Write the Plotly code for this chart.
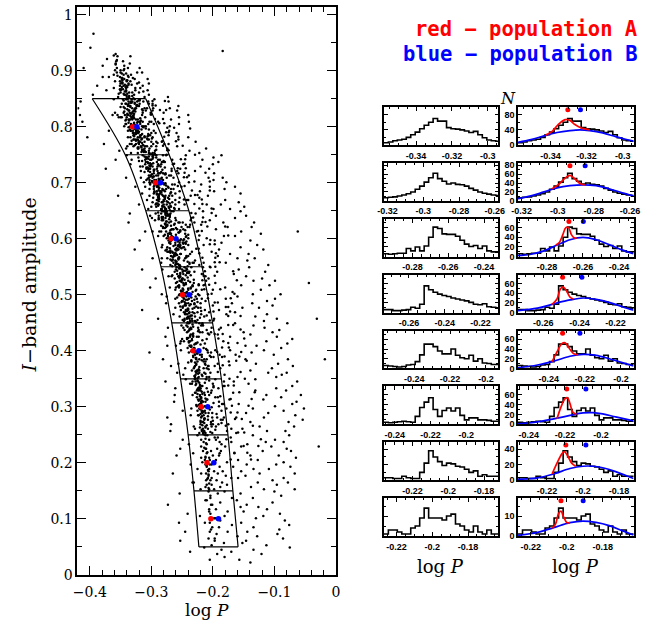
import plotly.graph_objects as go

# ---------------------------------------------------------------------------
# Main panel: amplitude bins, fitted peak positions of the two populations
# ---------------------------------------------------------------------------
AMP_CENTERS = [0.8, 0.7, 0.6, 0.5, 0.4, 0.3, 0.2, 0.1]
RED_LOGP = [-0.3304, -0.2932, -0.2678, -0.2493, -0.2323, -0.2190, -0.2095, -0.2032]
BLUE_LOGP = [-0.3234, -0.2848, -0.2598, -0.2386, -0.2227, -0.2084, -0.1984, -0.1909]

# selection box: bin edges in amplitude and the box boundaries in log P
BOX_AMP = [0.85, 0.75, 0.65, 0.55, 0.45, 0.35, 0.25, 0.15, 0.05]
BOX_LEFT = [-0.396, -0.3425, -0.309, -0.2843, -0.2668, -0.2525, -0.2402, -0.2307, -0.2227]
BOX_RIGHT = [-0.309, -0.271, -0.239, -0.2175, -0.2005, -0.1862, -0.1755, -0.1675, -0.159]

# stars: "amplitude(x1000): logP(x1000) ..."
STARS = [
    "966: -394", "941: -399", "935: -184", "930: -358", "926: -355 -334", "921: -372",
    "917: -357 -346", "913: -335 -358", "909: -344 -379", "905: -338 -319 -356 -410",
    "901: -359 -345 -350", "897: -350 -323 -356 -315", "893: -361 -333 -345",
    "889: -337 -369 -351 -379", "885: -327 -344 -348 -306", "881: -351 -334 -340 -359",
    "877: -323 -347 -350 -337 -304", "873: -314 -351 -345 -340 -388", "869: -326 -361 -341 -318",
    "865: -341 -326 -350 -373 -306", "861: -331 -320 -336 -350", "857: -304 -344 -342 -328 -395",
    "853: -336 -311 -337 -354 -273",
    "849: -332 -319 -346 -327 -361 -341 -339 -295",
    "845: -313 -323 -337 -305 -333 -331 -272 -415",
    "841: -348 -319 -298 -341 -327 -342 -337 -304",
    "837: -338 -335 -322 -320 -324 -334 -256",
    "833: -326 -307 -311 -297 -325 -343 -331 -270 -419",
    "829: -328 -314 -336 -309 -298 -337 -258",
    "825: -314 -301 -335 -359 -345 -331 -280",
    "821: -337 -339 -363 -329 -355 -315 -343 -240 -416",
    "817: -348 -340 -353 -310 -350 -332 -329 -255",
    "813: -341 -325 -331 -322 -335 -337 -268",
    "809: -303 -289 -300 -314 -318 -319 -322 -239 -412",
    "805: -341 -305 -296 -318 -342 -333 -328 -255",
    "801: -312 -309 -344 -315 -334 -331 -270",
    "797: -309 -328 -325 -320 -327 -323 -237",
    "793: -330 -334 -322 -325 -338 -296 -333 -271 -369",
    "789: -329 -293 -330 -322 -300 -326 -321 -259",
    "785: -318 -329 -317 -302 -304 -328 -272",
    "781: -298 -338 -311 -318 -319 -334 -322 -240 -404",
    "777: -306 -325 -304 -328 -322 -329 -316 -256",
    "773: -292 -311 -283 -319 -300 -318 -228",
    "769: -297 -335 -332 -279 -325 -320 -272 -377",
    "765: -329 -307 -339 -292 -300 -310 -317 -258",
    "761: -322 -303 -311 -341 -274 -321 -211",
    "757: -312 -294 -304 -313 -315 -311 -238 -352",
    "753: -322 -298 -303 -333 -295 -304 -222",
    "749: -281 -292 -276 -297 -340 -314 -186 -244",
    "745: -297 -307 -308 -321 -292 -309 -199",
    "741: -300 -289 -332 -286 -302 -310 -266 -217 -358",
    "737: -309 -291 -281 -278 -283 -306 -191",
    "733: -334 -284 -265 -289 -300 -310 -248 -200",
    "729: -285 -290 -302 -318 -314 -298 -220",
    "725: -302 -291 -308 -305 -267 -304 -206 -253 -374",
    "721: -258 -317 -296 -267 -290 -305 -229",
    "717: -281 -289 -277 -286 -288 -296 -256 -198",
    "713: -304 -301 -271 -268 -292 -289 -239",
    "709: -275 -283 -264 -304 -317 -298 -184 -207 -341",
    "705: -295 -287 -281 -292 -308 -303 -199",
    "701: -303 -295 -312 -298 -255 -289 -239 -178",
    "697: -266 -279 -302 -262 -287 -292 -219",
    "693: -296 -273 -251 -291 -310 -289 -164 -205 -326",
    "689: -268 -282 -276 -303 -264 -296 -181",
    "685: -291 -286 -254 -295 -278 -284 -221 -198",
    "681: -315 -269 -286 -261 -296 -291 -155",
    "677: -271 -281 -303 -266 -277 -288 -236 -208 -354",
    "673: -289 -254 -297 -273 -288 -278 -222",
    "669: -240 -280 -291 -261 -307 -289 -180 -242",
    "665: -266 -282 -273 -298 -255 -283 -158",
    "661: -275 -288 -261 -280 -246 -293 -210 -187 -320",
    "657: -292 -282 -268 -300 -272 -279 -149",
    "653: -255 -284 -305 -262 -276 -283 -199 -172",
    "649: -264 -267 -280 -282 -275 -216 -155",
    "645: -277 -269 -274 -293 -284 -228 -335",
    "641: -288 -302 -273 -270 -276 -146 -195",
    "637: -283 -261 -288 -299 -277 -235 -164",
    "633: -281 -294 -260 -236 -283 -205",
    "629: -249 -256 -254 -230 -271 -133 -183 -337",
    "625: -263 -237 -277 -244 -274 -219",
    "621: -251 -238 -281 -241 -276 -176 -137",
    "617: -248 -264 -258 -267 -265 -195",
    "613: -253 -284 -298 -287 -276 -226 -154 -310 -062",
    "609: -273 -269 -268 -245 -270 -122",
    "605: -280 -289 -267 -243 -273 -182 -164",
    "601: -272 -275 -240 -269 -259 -210",
    "597: -248 -272 -253 -256 -268 -139 -197 -319",
    "593: -261 -254 -249 -245 -271 -186",
    "589: -256 -253 -240 -282 -261 -128 -215",
    "585: -247 -283 -248 -254 -274 -155",
    "581: -275 -256 -245 -257 -261 -118 -190 -327",
    "577: -272 -270 -274 -234 -266 -202",
    "573: -260 -253 -252 -237 -262 -172 -142",
    "569: -262 -243 -264 -240 -268 -192",
    "565: -245 -274 -255 -283 -256 -160 -132 -298",
    "561: -247 -266 -267 -229 -261 -144",
    "557: -231 -284 -238 -233 -264 -215 -179",
    "553: -254 -222 -269 -261 -255 -110",
    "549: -235 -254 -246 -216 -259 -204 -141",
    "545: -282 -242 -260 -250 -158 -315",
    "541: -249 -240 -238 -230 -262 -193 -115",
    "537: -253 -248 -218 -258 -166",
    "533: -256 -267 -255 -272 -253 -146 -212",
    "529: -250 -207 -249 -262 -120 -293",
    "525: -251 -240 -254 -211 -253 -099 -134",
    "521: -231 -260 -244 -248 -196 -044",
    "517: -215 -247 -233 -223 -255 -154 -108",
    "513: -270 -236 -255 -260 -180 -302",
    "509: -227 -240 -261 -218 -248 -200 -122",
    "505: -242 -233 -249 -251 -168",
    "501: -208 -254 -224 -235 -247 -090 -135 -283",
    "497: -275 -228 -243 -250 -160",
    "493: -218 -261 -226 -239 -247 -099 -179",
    "489: -249 -212 -234 -250 -112",
    "485: -244 -220 -255 -230 -240 -169 -136 -276",
    "481: -246 -200 -238 -244 -103",
    "477: -220 -261 -230 -224 -249 -152 -125",
    "473: -252 -213 -240 -244 -190 -315",
    "469: -233 -247 -206 -225 -238 -164",
    "465: -264 -242 -219 -245 -112 -178",
    "461: -229 -254 -214 -237 -240 -131",
    "457: -234 -246 -242 -238 -096 -198 -289 -031",
    "453: -236 -229 -233 -237 -247 -117",
    "449: -217 -241 -222 -239 -164 -079",
    "445: -251 -216 -219 -243 -134",
    "441: -248 -224 -202 -236 -187 -116 -273",
    "437: -210 -246 -223 -238 -092",
    "433: -221 -217 -203 -242 -150 -103",
    "429: -192 -206 -236 -233 -139",
    "425: -223 -232 -226 -237 -172 -096 -277",
    "421: -242 -250 -210 -234 -071",
    "417: -252 -239 -247 -237 -113 -183",
    "413: -213 -253 -227 -228 -079",
    "409: -260 -236 -235 -238 -147 -129 -274",
    "405: -241 -215 -231 -230 -089",
    "401: -196 -209 -252 -231 -172 -117",
    "397: -203 -230 -208 -239 -137 -303",
    "393: -221 -218 -189 -229 -163 -101",
    "389: -203 -199 -218 -232 -185",
    "385: -222 -214 -210 -227 -147 -078 -281 -018",
    "381: -212 -225 -215 -235 -174",
    "377: -256 -213 -192 -227 -094 -130",
    "373: -208 -197 -207 -229 -070 -268",
    "369: -245 -215 -210 -231 -104 -188",
    "365: -234 -226 -224 -222 -139",
    "361: -214 -204 -222 -227 -080 -110 -258",
    "357: -181 -248 -218 -228 -088",
    "353: -210 -229 -206 -223 -160 -097",
    "349: -196 -244 -211 -229 -131",
    "345: -233 -228 -182 -224 -063 -166 -277",
    "341: -234 -237 -200 -227 -142",
    "337: -199 -219 -183 -217 -071 -181",
    "333: -210 -191 -220 -224 -097 -261",
    "329: -226 -202 -223 -220 -081 -131",
    "325: -203 -229 -214 -228 -167",
    "321: -213 -206 -233 -221 -057 -113 -262",
    "317: -192 -196 -226 -219 -089",
    "313: -210 -221 -209 -224 -173 -118",
    "309: -190 -212 -219 -216 -064 -263",
    "305: -183 -219 -185 -221 -071 -158",
    "301: -226 -213 -190 -219 -099",
    "297: -178 -221 -235 -222 -052 -135",
    "293: -217 -225 -186 -213 -085 -249",
    "289: -212 -201 -207 -217 -110 -146",
    "285: -215 -236 -223 -224 -066",
    "281: -182 -201 -193 -219 -117 -162 -274",
    "277: -208 -184 -187 -214 -054",
    "273: -217 -220 -203 -216 -139 -077",
    "269: -200 -191 -203 -220 -175 -268",
    "265: -195 -202 -231 -212 -124 -068",
    "261: -208 -229 -170 -216 -152",
    "257: -177 -215 -218 -214 -082 -112 -269",
    "253: -201 -212 -222 -216 -162",
    "249: -225 -209 -212 -076 -135",
    "245: -197 -192 -171",
    "241: -206 -195 -219 -099 -249",
    "237: -170 -189 -215 -085 -114",
    "233: -239 -186 -210 -144",
    "229: -180 -219 -105 -154 -028",
    "225: -193 -211 -212 -080 -253",
    "221: -203 -187 -216 -073 -119",
    "217: -232 -189 -210 -165",
    "213: -200 -190 -093 -139 -259",
    "209: -219 -206 -212 -065",
    "205: -205 -195 -213 -159 -127",
    "201: -217 -177 -085",
    "197: -202 -212 -205 -145 -097 -236",
    "193: -189 -167 -210 -074",
    "189: -206 -225 -134 -109",
    "185: -184 -198 -207 -154",
    "181: -192 -219 -211 -067 -124 -265",
    "177: -179 -207 -147",
    "173: -202 -170 -208 -085 -159",
    "169: -211 -194 -204 -103",
    "165: -231 -185 -078 -127 -233",
    "161: -202 -177 -210 -096",
    "157: -212 -188 -138",
    "153: -198 -220 -206 -067 -117",
    "149: -181 -207 -100",
    "145: -192 -155 -254",
    "141: -204 -089",
    "137: -204 -169 -135",
    "133: -210 -212 -161",
    "129: -188 -103",
    "125: -201 -203 -145 -273",
    "121: -155 -126",
    "117: -206 -195 -112",
    "113: -206 -176 -150",
    "109: -204 -091 -241",
    "105: -221 -181 -118",
    "101: -196 -198 -130",
    "097: -188 -083",
    "093: -205 -213 -154 -255",
    "089: -169 -076",
    "085: -201 -190 -134",
    "081: -203 -092",
    "077: -205 -176 -144 -245",
    "073: -194 -095",
    "069: -160 -128",
    "065: -197 -207 -086",
    "061: -197 -146 -253",
    "057: -182 -152",
    "053: -202 -113",
    "049: -214 -075",
    "045: -186 -134",
    "041: -170 -237",
    "037: -193 -121",
    "032: -181",
    "027: -205 -157",
    "022: -139",
]

# stars close to the period-amplitude ridge, same format
STARS_RIDGE = [
    "927: -361", "919: -356", "911: -358", "903: -344", "895: -348 -341", "891: -355 -338",
    "887: -348 -330 -347", "883: -340 -339 -347", "879: -348 -320 -347", "875: -343 -337 -332",
    "871: -339 -342 -348", "867: -351 -349 -346", "863: -341 -313 -343", "859: -345 -353 -339",
    "855: -336 -331 -340", "851: -340 -337 -329", "847: -345 -319 -321", "843: -332 -327 -334",
    "839: -338 -323 -324", "835: -334 -345 -350", "831: -339 -315 -327", "827: -326 -344 -330",
    "823: -339 -333 -328", "819: -330 -334 -329", "815: -332 -328 -318", "811: -342 -317 -336",
    "807: -328 -337 -323", "803: -332 -331 -327", "799: -325 -337 -313", "795: -335 -304 -316",
    "791: -324 -320 -323", "787: -325 -315 -305", "783: -328 -306 -311", "779: -315 -299 -307",
    "775: -321 -332 -325", "771: -321 -315 -290", "767: -313 -314 -327", "763: -321 -316 -322",
    "759: -313 -315 -292", "755: -316 -309 -312", "751: -302 -294 -299", "747: -311 -298 -304",
    "743: -305 -308 -298", "739: -315 -320 -280", "735: -305 -297 -302", "731: -301 -288 -303",
    "727: -308 -306 -278", "723: -295 -296 -282", "719: -302 -284 -311", "715: -299 -278 -277",
    "711: -301 -297 -296", "707: -288 -284 -306", "703: -292 -287 -299", "699: -302 -280 -277",
    "695: -295 -290 -276", "691: -287 -288 -272", "687: -288 -280 -281", "683: -295 -284 -268",
    "679: -283 -291 -288", "675: -288 -289 -279", "671: -287 -271 -278", "667: -280 -288 -275",
    "663: -290 -270 -292", "659: -282 -269 -289", "655: -278 -263 -271", "651: -284 -270 -278",
    "647: -289 -277 -276", "643: -277 -270 -273", "639: -270 -283 -281", "635: -281 -288 -271",
    "631: -276 -268 -275", "627: -277 -262 -278", "623: -268 -284 -274", "619: -278 -281 -260",
    "615: -269 -245 -253", "611: -270 -256 -255", "607: -278 -240 -260", "603: -265 -244 -268",
    "599: -269 -247 -252", "595: -257 -243 -269", "591: -269 -244 -248", "587: -264 -257 -253",
    "583: -270 -259 -251", "579: -259 -269 -277", "575: -265 -269 -261", "571: -263 -259 -258",
    "567: -255 -243 -265", "563: -265 -269 -256", "559: -260 -241 -259", "555: -257 -260 -238",
    "551: -266 -253 -241", "547: -253 -255 -243", "543: -258 -244 -247", "539: -253 -242 -239",
    "535: -266 -236 -244", "531: -254 -241 -255", "527: -250 -231 -246", "523: -258 -251 -237",
    "519: -244 -223 -247", "515: -255 -257 -233", "511: -249 -240 -236", "507: -251 -252 -228",
    "503: -244 -245 -242", "499: -255 -222 -246", "495: -248 -235 -258", "491: -244 -230 -241",
    "487: -251 -225 -246", "483: -245 -230 -236", "479: -253 -249 -227", "475: -240 -233 -241",
    "471: -242 -219 -244", "467: -245 -230 -239", "463: -236 -210 -234", "459: -242 -240 -221",
    "455: -246 -249 -225", "451: -238 -227 -241",
    "447: -233 -217", "443: -241 -232", "439: -238 -235", "435: -240 -224", "431: -232 -208",
    "427: -237 -232", "423: -240 -242", "419: -234 -217", "415: -239 -225", "411: -230 -220",
    "407: -235 -236", "403: -230 -211", "399: -235 -228", "395: -226 -225", "391: -232 -205",
    "387: -227 -228", "383: -235 -218", "379: -229 -240", "375: -227 -212", "371: -230 -222",
    "367: -223 -207", "363: -228 -226", "359: -224 -212", "355: -230 -217", "351: -225 -229",
    "347: -225 -206", "343: -222 -213", "339: -228 -221", "335: -222 -199", "331: -225 -222",
    "327: -218 -208", "323: -225 -217", "319: -221 -188", "315: -219 -212", "311: -223 -218",
    "307: -219 -199", "303: -223 -227", "299: -216 -202", "295: -220 -205", "291: -215 -218",
    "287: -220 -194", "283: -218 -208", "279: -214 -213", "275: -220 -200", "271: -214 -186",
    "267: -217 -210", "263: -212 -221", "259: -218 -196", "255: -214 -204",
    "251: -215", "243: -212", "235: -211", "227: -214", "219: -209", "211: -212", "203: -209",
    "195: -210", "187: -208", "179: -207", "171: -209", "163: -206", "155: -207",
]

# stars just to the long-period side of the box, same format
STARS_FIELD = [
    "846: -298 -278", "838: -298 -293", "830: -276 -286", "822: -301 -300", "814: -294 -281",
    "806: -287 -279", "798: -263 -274", "790: -272 -276", "782: -279 -256", "774: -260 -282",
    "766: -281 -249", "758: -274 -272", "750: -229 -275", "742: -252 -245", "734: -263 -246",
    "726: -244 -257", "718: -212 -246", "710: -247 -242", "702: -205 -230", "694: -246 -257",
    "686: -205 -234", "678: -229 -225", "670: -218 -247", "662: -230 -217", "654: -202 -222",
    "646: -202 -235", "638: -232 -216", "630: -212 -217", "622: -180 -209", "614: -218 -224",
    "606: -175 -222", "598: -204 -223", "590: -197 -205", "582: -223 -227", "574: -195 -222",
    "566: -196 -217", "558: -189 -197", "550: -196 -205", "542: -167 -213", "534: -215 -197",
    "526: -161 -217", "518: -206 -213", "510: -214 -188", "502: -165 -202", "494: -171 -208",
    "486: -192 -197", "478: -175 -179", "470: -172 -199", "462: -155 -175", "454: -205 -199",
    "446: -167 -175", "438: -155 -190", "430: -197 -184", "422: -149 -191", "414: -160 -175",
    "406: -185 -174", "398: -154 -193", "390: -157 -181", "382: -145 -162", "374: -173 -184",
    "362: -155 -192", "350: -148 -173", "338: -175 -166", "326: -132 -157", "314: -137 -171",
    "302: -142 -169", "290: -171 -160", "278: -153 -164", "266: -135 -179", "254: -159 -149",
    "242: -122 -178", "230: -126 -150", "218: -165 -144", "206: -138 -171",
]

# ---------------------------------------------------------------------------
# Histogram panels (one row per amplitude bin, top = 0.8)
# ---------------------------------------------------------------------------
HIST_LO = [-0.358, -0.322, -0.296, -0.274, -0.257, -0.246, -0.236, -0.227]
HIST_SPAN = 0.064
HIST_BIN = 0.0025
PANEL_YMAX = [100, 85, 78, 78, 78, 77, 49, 19]
PANEL_YDTICK = [40, 20, 20, 20, 20, 20, 20, 10]
PANEL_YMINOR = [20, 10, 10, 10, 10, 10, 10, 5]

COUNTS_08 = [6, 8, 11, 13, 15, 20, 27, 34, 43, 52, 60, 70, 63, 63, 46, 43, 42, 40, 37, 33, 36, 27, 19, 13, 11, 10]
COUNTS_07 = [7, 8, 9, 11, 13, 16, 20, 26, 33, 42, 52, 62, 50, 44, 38, 40, 37, 36, 33, 28, 24, 20, 17, 15, 13, 12]
COUNTS_06 = [6, 5, 6, 7, 7, 17, 12, 20, 12, 22, 40, 61, 58, 47, 46, 46, 42, 34, 26, 21, 23, 17, 22, 12, 10, 9]
COUNTS_05 = [6, 6, 4, 4, 5, 6, 11, 9, 17, 55, 47, 42, 38, 35, 33, 30, 28, 26, 24, 21, 17, 16, 18, 12, 11, 9]
COUNTS_04 = [6, 5, 4, 3, 4, 7, 8, 14, 28, 50, 50, 45, 36, 30, 30, 40, 27, 22, 20, 27, 15, 20, 11, 10, 8, 8]
COUNTS_03 = [4, 3, 4, 5, 6, 5, 4, 16, 34, 45, 54, 30, 16, 28, 33, 27, 33, 18, 9, 13, 13, 9, 9, 8, 6, 6]
COUNTS_02 = [3, 3, 2, 2, 5, 3, 2, 2, 10, 22, 38, 30, 24, 19, 22, 21, 18, 17, 14, 10, 12, 5, 7, 5, 5, 5]
COUNTS_01 = [1, 3, 3, 2, 1, 1, 4, 5, 9, 14, 9, 9, 9, 8, 10, 11, 6, 5, 3, 2, 5, 2, 1, 3, 1, 1]

# fitted profiles: population B alone (blue) and A+B around the A peak (red)
FIT_B_X_08 = [-0.358, -0.3508, -0.3436, -0.3364, -0.3292, -0.3237, -0.3183, -0.3111, -0.3039, -0.2985, -0.294]
FIT_B_Y_08 = [7, 14, 24, 33, 38, 40, 38, 32, 22, 15, 10]
FIT_AB_X_08 = [-0.3427, -0.3391, -0.3355, -0.3319, -0.3292, -0.3265, -0.3228, -0.3201, -0.3183]
FIT_AB_Y_08 = [26, 36, 55, 67, 65, 54, 45, 42, 40]

FIT_B_X_07 = [-0.322, -0.3148, -0.3076, -0.3004, -0.2932, -0.286, -0.2787, -0.2715, -0.2643, -0.258]
FIT_B_Y_07 = [5, 11, 20, 29, 34, 36, 34, 27, 18, 11]
FIT_AB_X_07 = [-0.3031, -0.2995, -0.2959, -0.2932, -0.2904, -0.2877, -0.285]
FIT_AB_Y_07 = [27, 37, 51, 57, 49, 39, 36]

FIT_B_X_06 = [-0.296, -0.2888, -0.2816, -0.2744, -0.2672, -0.26, -0.2528, -0.2456, -0.2384, -0.232]
FIT_B_Y_06 = [2, 5, 12, 24, 35, 40, 35, 25, 14, 6]
FIT_AB_X_06 = [-0.275, -0.273, -0.2712, -0.2695, -0.268, -0.2665, -0.265, -0.2635]
FIT_AB_Y_06 = [24, 30, 45, 60, 60, 46, 39, 38]

FIT_B_X_05 = [-0.274, -0.2632, -0.2542, -0.2452, -0.2379, -0.2307, -0.2235, -0.2163, -0.21]
FIT_B_Y_05 = [4, 9, 18, 26, 30, 27, 21, 12, 5]
FIT_AB_X_05 = [-0.2551, -0.2524, -0.2506, -0.2491, -0.247, -0.2452, -0.2433]
FIT_AB_Y_05 = [17, 28, 48, 53, 44, 32, 28]

FIT_B_X_04 = [-0.257, -0.2462, -0.2372, -0.2282, -0.2209, -0.2137, -0.2065, -0.1993, -0.193]
FIT_B_Y_04 = [1, 7, 15, 25, 29, 27, 20, 12, 5]
FIT_AB_X_04 = [-0.2381, -0.2354, -0.2327, -0.2309, -0.2291, -0.2264, -0.2237]
FIT_AB_Y_04 = [14, 34, 51, 53, 44, 31, 28]

FIT_B_X_03 = [-0.246, -0.2352, -0.2262, -0.2172, -0.21, -0.2045, -0.1991, -0.1919, -0.182]
FIT_B_Y_03 = [1, 5, 11, 18, 23, 23.5, 21, 15, 7]
FIT_AB_X_03 = [-0.2244, -0.2222, -0.2199, -0.2186, -0.2172, -0.2157, -0.2136]
FIT_AB_Y_03 = [11, 35, 52, 54, 42, 25, 20]

FIT_B_X_02 = [-0.236, -0.2252, -0.2162, -0.2072, -0.2, -0.1945, -0.1891, -0.1819, -0.172]
FIT_B_Y_02 = [1, 3, 8, 15, 18, 18, 16, 11, 2]
FIT_AB_X_02 = [-0.2171, -0.2144, -0.2117, -0.2104, -0.2086, -0.2063, -0.204]
FIT_AB_Y_02 = [8, 22, 34, 37, 32, 22, 18]

FIT_B_X_01 = [-0.227, -0.2162, -0.2072, -0.1982, -0.191, -0.1838, -0.1765, -0.1693, -0.163]
FIT_B_Y_01 = [0.3, 1.8, 4.2, 6.7, 7.5, 6.8, 5.2, 2.7, 0.5]
FIT_AB_X_01 = [-0.2081, -0.2063, -0.2045, -0.2032, -0.2018, -0.2, -0.1982]
FIT_AB_Y_01 = [3.9, 5.8, 11.3, 12.5, 9.7, 6.8, 6.7]

COUNTS = [COUNTS_08, COUNTS_07, COUNTS_06, COUNTS_05, COUNTS_04, COUNTS_03, COUNTS_02, COUNTS_01]
FITS_B = [(FIT_B_X_08, FIT_B_Y_08), (FIT_B_X_07, FIT_B_Y_07), (FIT_B_X_06, FIT_B_Y_06),
          (FIT_B_X_05, FIT_B_Y_05), (FIT_B_X_04, FIT_B_Y_04), (FIT_B_X_03, FIT_B_Y_03),
          (FIT_B_X_02, FIT_B_Y_02), (FIT_B_X_01, FIT_B_Y_01)]
FITS_AB = [(FIT_AB_X_08, FIT_AB_Y_08), (FIT_AB_X_07, FIT_AB_Y_07), (FIT_AB_X_06, FIT_AB_Y_06),
           (FIT_AB_X_05, FIT_AB_Y_05), (FIT_AB_X_04, FIT_AB_Y_04), (FIT_AB_X_03, FIT_AB_Y_03),
           (FIT_AB_X_02, FIT_AB_Y_02), (FIT_AB_X_01, FIT_AB_Y_01)]

# ---------------------------------------------------------------------------
# Page geometry (pixels on a 665 x 630 page)
# ---------------------------------------------------------------------------
W, H = 665, 630
RED, BLUE = "#ff0000", "#0000ff"
SERIF = "DejaVu Serif"


def fx(px):
    return px / W


def fy(py):
    return 1 - py / H


MAIN_X = (72, 336)
MAIN_Y = (4.5, 582)
COL_LEFT = (385, 502)
COL_RIGHT = (522, 640)
ROW_TOP0, ROW_STEP, ROW_H = 106, 56.85, 38.5

fig = go.Figure()

# ---- star cloud ----
star_x, star_y = [], []
for row in STARS + STARS_RIDGE + STARS_FIELD:
    amp, vals = row.split(":")
    for v in vals.split():
        star_x.append(int(v) / 1000.0)
        star_y.append(int(amp) / 1000.0)
fig.add_trace(go.Scatter(x=star_x, y=star_y, mode="markers",
                         marker=dict(size=2.5, color="black", line=dict(width=0)),
                         xaxis="x", yaxis="y", hoverinfo="skip"))

# ---- selection box ----
for edge in (BOX_LEFT, BOX_RIGHT):
    fig.add_trace(go.Scatter(x=edge, y=BOX_AMP, mode="lines",
                             line=dict(color="black", width=1.2, shape="spline"),
                             xaxis="x", yaxis="y"))
hx, hy = [], []
for a, l, r in zip(BOX_AMP, BOX_LEFT, BOX_RIGHT):
    hx += [l, r, None]
    hy += [a, a, None]
fig.add_trace(go.Scatter(x=hx, y=hy, mode="lines", line=dict(color="black", width=1.2),
                         xaxis="x", yaxis="y"))

# ---- peak positions ----
fig.add_trace(go.Scatter(x=RED_LOGP, y=AMP_CENTERS, mode="markers",
                         marker=dict(size=5.5, color=RED), xaxis="x", yaxis="y"))
fig.add_trace(go.Scatter(x=BLUE_LOGP, y=AMP_CENTERS, mode="markers",
                         marker=dict(size=5.5, color=BLUE), xaxis="x", yaxis="y"))

main_tick_font = dict(family=SERIF, size=14, color="black")
layout = dict(
    width=W, height=H, margin=dict(l=0, r=0, t=0, b=0),
    paper_bgcolor="white", plot_bgcolor="white", showlegend=False,
    xaxis=dict(domain=[fx(MAIN_X[0]), fx(MAIN_X[1])], anchor="y", range=[-0.42, 0],
               tick0=0, dtick=0.1, ticks="inside", ticklen=9, tickwidth=1.2, tickcolor="black",
               minor=dict(dtick=0.02, ticks="inside", ticklen=4.5, tickwidth=1, tickcolor="black"),
               showline=True, linewidth=2, linecolor="black", mirror="ticks",
               showgrid=False, zeroline=False, tickfont=main_tick_font, ticklabelstandoff=3),
    yaxis=dict(domain=[fy(MAIN_Y[1]), fy(MAIN_Y[0])], anchor="x", range=[0, 1.013],
               tick0=0, dtick=0.1, ticks="inside", ticklen=9, tickwidth=1.2, tickcolor="black",
               minor=dict(dtick=0.05, ticks="inside", ticklen=4.5, tickwidth=1, tickcolor="black"),
               showline=True, linewidth=2, linecolor="black", mirror="ticks",
               showgrid=False, zeroline=False, tickfont=main_tick_font),
    yaxis2=dict(overlaying="y", side="right", anchor="x", range=[0, 1.013], tick0=0, dtick=0.1,
                ticks="", showline=False, showgrid=False, zeroline=False, tickfont=main_tick_font),
)

panel_font = dict(family="Liberation Sans", size=9, color="black", weight=700)


def x_ticks(lo, hi):
    vals, txt = [], []
    k = int(round(lo / 0.02)) - 1
    while k * 0.02 <= hi + 1e-9:
        v = round(k * 0.02, 2)
        if lo <= v <= hi:
            vals.append(v)
            txt.append("%g" % v)
        k += 1
    return vals, txt


for k in range(8):
    lo = HIST_LO[k]
    hi = lo + HIST_SPAN
    top = ROW_TOP0 + k * ROW_STEP
    ydom = [fy(top + ROW_H), fy(top)]
    ymax = PANEL_YMAX[k]
    counts = COUNTS[k]
    edges = [lo + i * HIST_BIN for i in range(len(counts) + 1)]
    hist_y = counts + [counts[-1]]
    tv, tt = x_ticks(lo, hi)
    for col, idx in ((COL_LEFT, 3 + 2 * k), (COL_RIGHT, 4 + 2 * k)):
        xa, ya = "x%d" % idx, "y%d" % idx
        right = col is COL_RIGHT
        fig.add_trace(go.Scatter(x=edges, y=hist_y, mode="lines",
                                 line=dict(color="black", width=1.6, shape="hv"),
                                 xaxis=xa, yaxis=ya))
        if right:
            bx, by = FITS_B[k]
            fig.add_trace(go.Scatter(x=bx, y=by, mode="lines",
                                     line=dict(color=BLUE, width=1.7, shape="spline"),
                                     xaxis=xa, yaxis=ya))
            rx, ry = FITS_AB[k]
            fig.add_trace(go.Scatter(x=rx, y=ry, mode="lines",
                                     line=dict(color=RED, width=1.7, shape="spline"),
                                     xaxis=xa, yaxis=ya))
            fig.add_trace(go.Scatter(x=[RED_LOGP[k], BLUE_LOGP[k]], y=[0.93 * ymax] * 2,
                                     mode="markers", marker=dict(size=5, color=[RED, BLUE]),
                                     xaxis=xa, yaxis=ya, cliponaxis=False))
        layout["xaxis%d" % idx] = dict(
            domain=[fx(col[0]), fx(col[1])], anchor=ya, range=[lo, hi],
            tickmode="array", tickvals=tv, ticktext=tt,
            ticks="inside", ticklen=4, tickwidth=1, tickcolor="black",
            minor=dict(dtick=0.005, tick0=0, ticks="inside", ticklen=2.5, tickwidth=1, tickcolor="black"),
            showline=True, linewidth=1.5, linecolor="black", mirror="ticks",
            showgrid=False, zeroline=False, tickfont=panel_font, ticklabelstandoff=1)
        layout["yaxis%d" % idx] = dict(
            domain=ydom, anchor=xa, range=[0, ymax], tick0=0, dtick=PANEL_YDTICK[k],
            ticks="inside", ticklen=4, tickwidth=1, tickcolor="black",
            minor=dict(dtick=PANEL_YMINOR[k], ticks="inside", ticklen=2.5, tickwidth=1, tickcolor="black"),
            showline=True, linewidth=1.5, linecolor="black", mirror="ticks",
            showgrid=False, zeroline=False, showticklabels=right, tickfont=panel_font)

legend_font = dict(family="DejaVu Sans Mono", size=20.5, weight="bold")
annotations = [
    dict(text="red \u2212 population A", x=fx(647), y=fy(26), xanchor="right", yanchor="middle",
         font=dict(legend_font, color=RED)),
    dict(text="blue \u2212 population B", x=fx(647), y=fy(52), xanchor="right", yanchor="middle",
         font=dict(legend_font, color=BLUE)),
    dict(text="<i>N</i>", x=fx(512), y=fy(97), xanchor="center", yanchor="middle",
         font=dict(family=SERIF, size=16, color="black")),
    dict(text="<i>I</i>\u2212band amplitude", x=fx(22), y=fy(287), textangle=-90,
         xanchor="center", yanchor="middle", font=dict(family=SERIF, size=19, color="black")),
    dict(text="log <i>P</i>", x=fx(204), y=fy(618), xanchor="center", yanchor="middle",
         font=dict(family=SERIF, size=17, color="black")),
    dict(text="log <i>P</i>", x=fx(443), y=fy(574), xanchor="center", yanchor="middle",
         font=dict(family=SERIF, size=18, color="black")),
    dict(text="log <i>P</i>", x=fx(581), y=fy(574), xanchor="center", yanchor="middle",
         font=dict(family=SERIF, size=18, color="black")),
]
for a in annotations:
    a.update(xref="paper", yref="paper", showarrow=False)
layout["annotations"] = annotations

fig.update_layout(**layout)
fig.write_html("out.html")
